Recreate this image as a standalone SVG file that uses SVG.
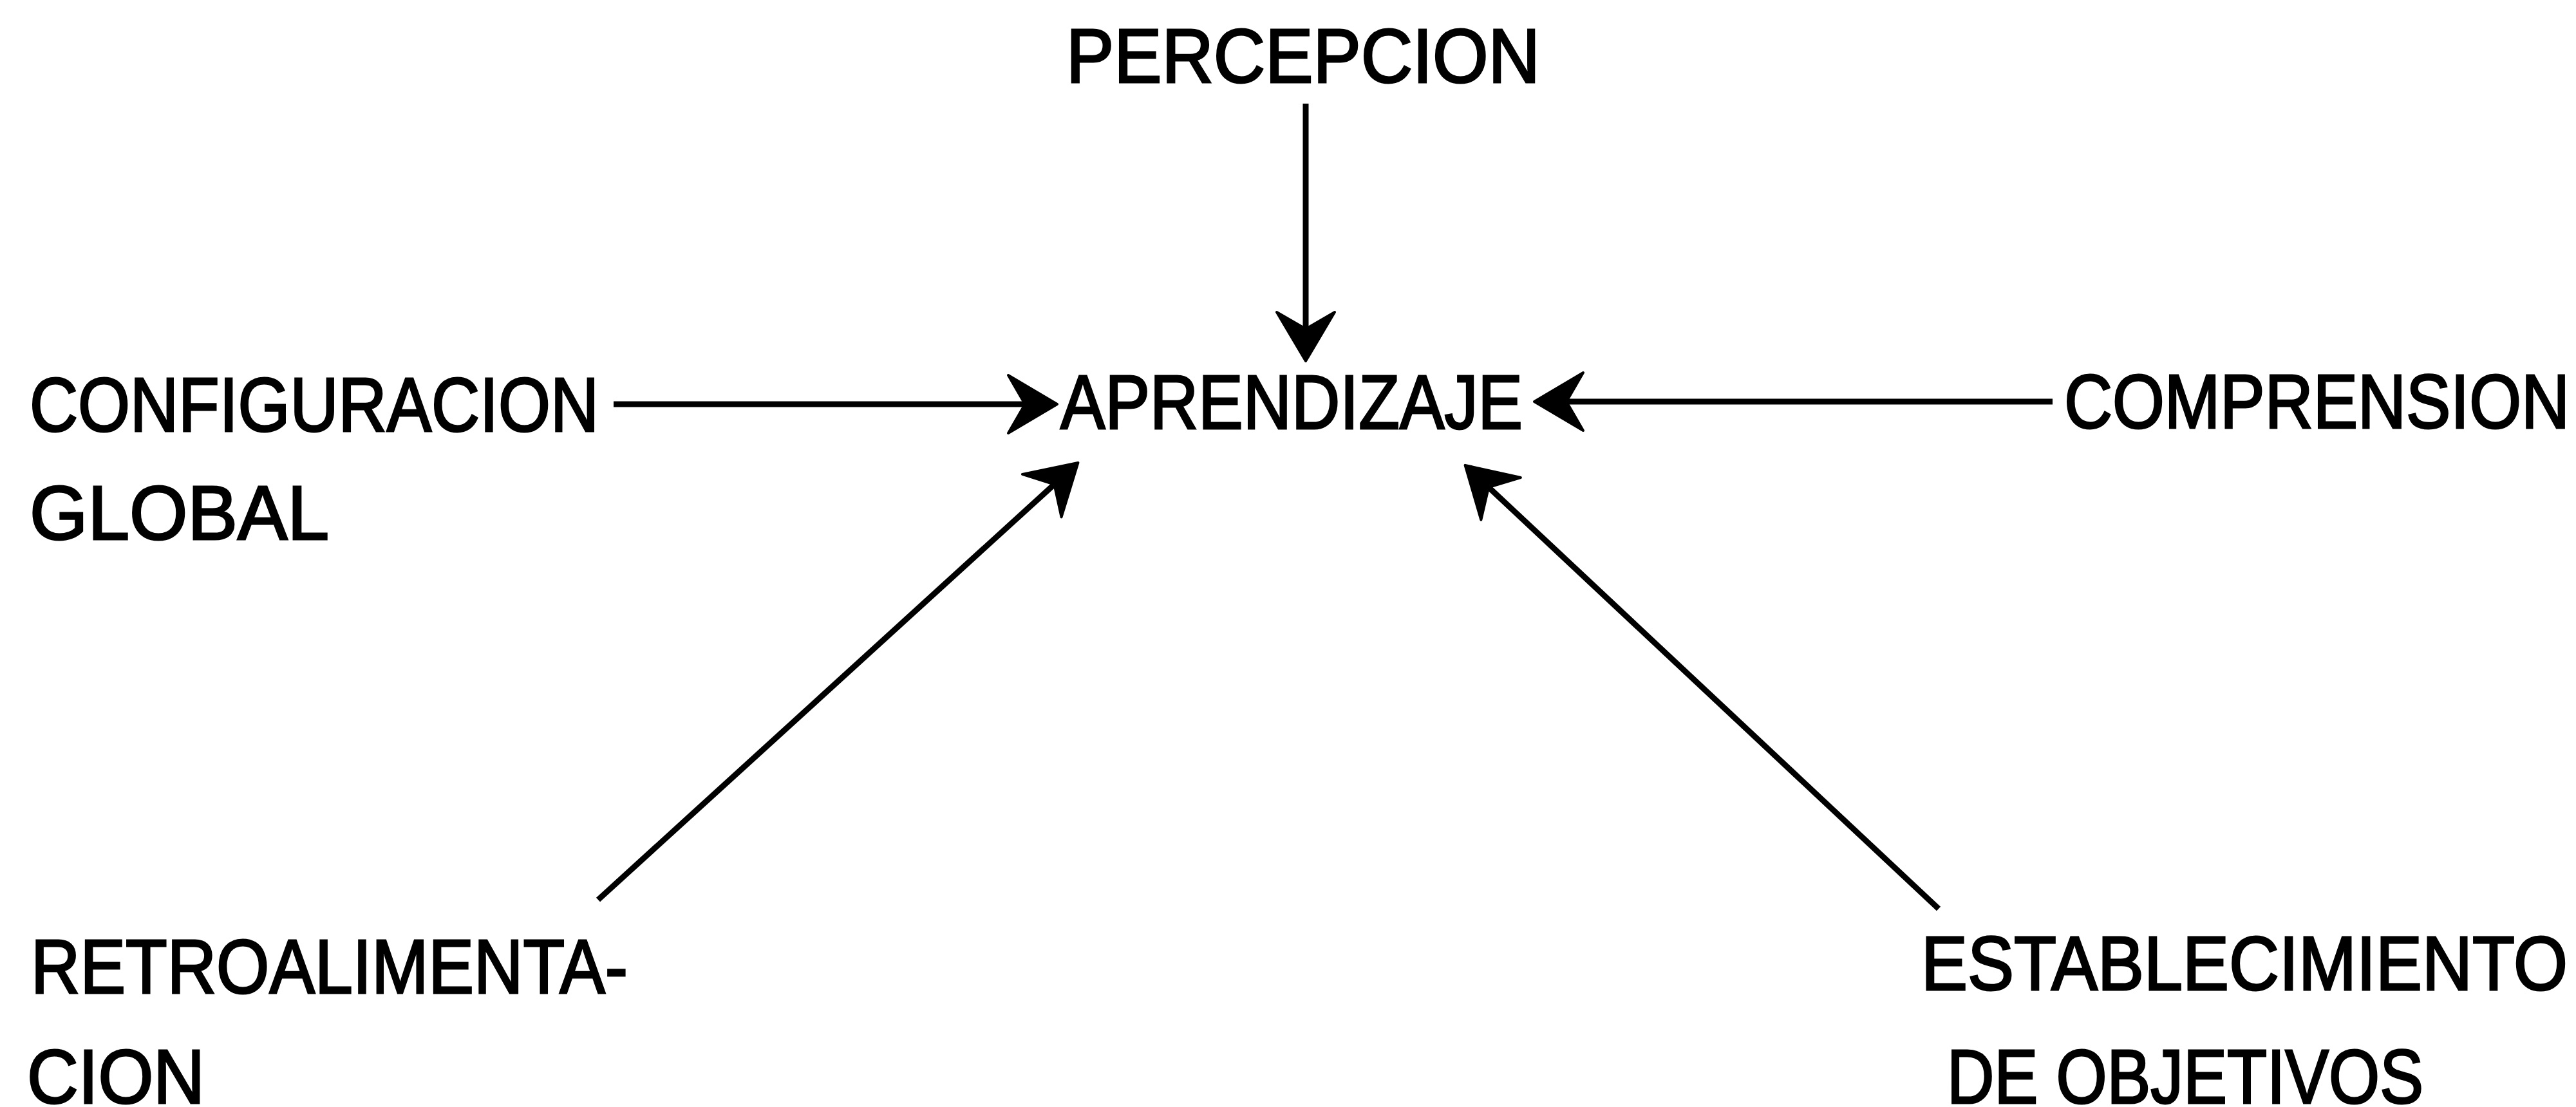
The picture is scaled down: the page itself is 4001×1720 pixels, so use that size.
<svg xmlns="http://www.w3.org/2000/svg" width="4001" height="1720" viewBox="0 0 4001 1720">
<style>
.lbl{font-family:"Liberation Sans",Arial,Helvetica,sans-serif;font-size:118px;fill:#000;stroke:#000;stroke-width:3;}
.conn{stroke:#000;stroke-width:9;fill:none;}
</style>
<defs>
<marker id="ah" markerUnits="userSpaceOnUse" viewBox="-80 -50 90 100" markerWidth="90" markerHeight="100" refX="0" refY="0" orient="auto">
<path d="M6,0 L-70,-45 L-44,0 L-70,45 Z" fill="#000" stroke="#000" stroke-width="4" stroke-linejoin="round"/>
</marker>
</defs>
<rect width="4001" height="1720" fill="#fff"/>
<g id="n-percepcion"><text class="lbl" x="1656" y="128" textLength="736" lengthAdjust="spacingAndGlyphs">PERCEPCION</text></g>
<g id="n-aprendizaje"><text class="lbl" x="1647" y="666" textLength="718" lengthAdjust="spacingAndGlyphs">APRENDIZAJE</text></g>
<g id="n-configuracion"><text class="lbl" x="46" y="670" textLength="884" lengthAdjust="spacingAndGlyphs">CONFIGURACION</text><text class="lbl" x="46" y="838" textLength="465" lengthAdjust="spacingAndGlyphs">GLOBAL</text></g>
<g id="n-comprension"><text class="lbl" x="3206" y="665" textLength="785" lengthAdjust="spacingAndGlyphs">COMPRENSION</text></g>
<g id="n-retro"><text class="lbl" x="48" y="1543" textLength="927" lengthAdjust="spacingAndGlyphs">RETROALIMENTA-</text><text class="lbl" x="42" y="1714" textLength="276" lengthAdjust="spacingAndGlyphs">CION</text></g>
<g id="n-establecimiento"><text class="lbl" x="2984" y="1538" textLength="1004" lengthAdjust="spacingAndGlyphs">ESTABLECIMIENTO</text><text class="lbl" x="3024" y="1714" textLength="740" lengthAdjust="spacingAndGlyphs">DE OBJETIVOS</text></g>
<g id="connectors">
<line class="conn" x1="2028" y1="161" x2="2028" y2="555" marker-end="url(#ah)"/>
<line class="conn" x1="953" y1="628" x2="1636" y2="628" marker-end="url(#ah)"/>
<line class="conn" x1="3188" y1="624" x2="2389" y2="624" marker-end="url(#ah)"/>
<line class="conn" x1="929" y1="1398" x2="1670" y2="723" marker-end="url(#ah)"/>
<line class="conn" x1="3011" y1="1412" x2="2280" y2="727" marker-end="url(#ah)"/>
</g>
</svg>
